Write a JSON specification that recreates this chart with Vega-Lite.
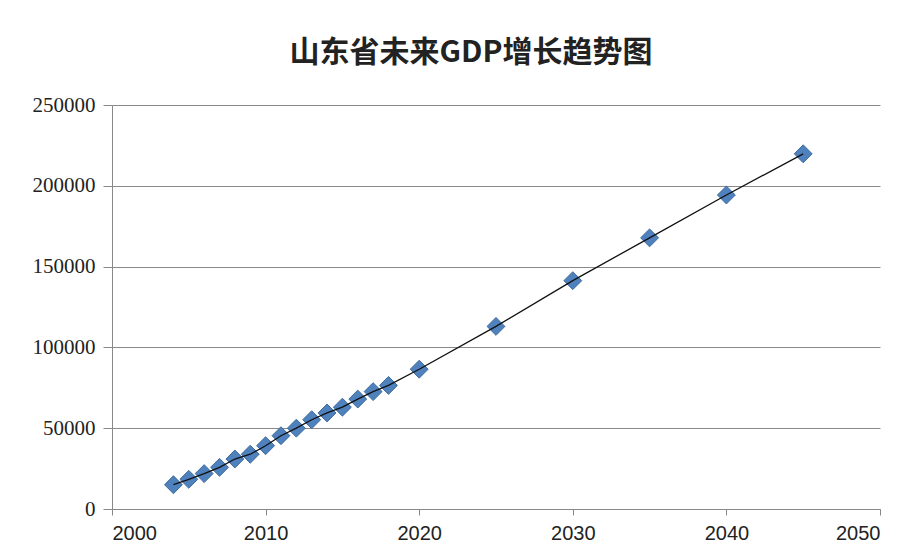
{
  "$schema": "https://vega.github.io/schema/vega-lite/v6.json",
  "width": 768,
  "height": 404,
  "autosize": "none",
  "padding": {"left": 112, "top": 105, "right": 38, "bottom": 51},
  "background": "white",
  "title": {
    "text": "山东省未来GDP增长趋势图",
    "font": "Noto Sans CJK SC",
    "fontSize": 30,
    "fontWeight": "bold",
    "color": "#222222",
    "anchor": "middle",
    "dx": -25,
    "offset": 26
  },
  "data": {
    "values": [
      {"year": 2004, "gdp": 15021},
      {"year": 2005, "gdp": 18366},
      {"year": 2006, "gdp": 21900},
      {"year": 2007, "gdp": 25776},
      {"year": 2008, "gdp": 30933},
      {"year": 2009, "gdp": 33896},
      {"year": 2010, "gdp": 39170},
      {"year": 2011, "gdp": 45362},
      {"year": 2012, "gdp": 50013},
      {"year": 2013, "gdp": 55230},
      {"year": 2014, "gdp": 59427},
      {"year": 2015, "gdp": 63002},
      {"year": 2016, "gdp": 68024},
      {"year": 2017, "gdp": 72634},
      {"year": 2018, "gdp": 76470},
      {"year": 2020, "gdp": 86500},
      {"year": 2025, "gdp": 113000},
      {"year": 2030, "gdp": 141300},
      {"year": 2035, "gdp": 167800},
      {"year": 2040, "gdp": 194300},
      {"year": 2045, "gdp": 219800}
    ]
  },
  "encoding": {
    "x": {
      "field": "year",
      "type": "quantitative",
      "scale": {"domain": [2000, 2050], "nice": false, "zero": false},
      "axis": {
        "title": null,
        "values": [2000, 2010, 2020, 2030, 2040, 2050],
        "format": "d",
        "grid": false,
        "domainColor": "#888888",
        "tickColor": "#888888",
        "tickSize": 6,
        "labelFont": "Liberation Sans",
        "labelFontSize": 20,
        "labelColor": "#222222",
        "labelPadding": 8
      }
    },
    "y": {
      "field": "gdp",
      "type": "quantitative",
      "scale": {"domain": [0, 250000], "nice": false},
      "axis": {
        "title": null,
        "values": [0, 50000, 100000, 150000, 200000, 250000],
        "format": "d",
        "grid": true,
        "gridColor": "#8a8a8a",
        "gridWidth": 1.2,
        "domainColor": "#888888",
        "tickColor": "#888888",
        "tickSize": 9,
        "labelFont": "Liberation Serif",
        "labelFontSize": 21,
        "labelColor": "#222222",
        "labelPadding": 8
      }
    }
  },
  "layer": [
    {
      "mark": {"type": "point", "shape": "diamond", "filled": true, "size": 320, "color": "#4f81bd", "stroke": "#3d6a9e", "strokeWidth": 1, "opacity": 1}
    },
    {
      "mark": {"type": "line", "color": "#111111", "strokeWidth": 1.3}
    }
  ],
  "config": {
    "view": {"stroke": null}
  }
}
